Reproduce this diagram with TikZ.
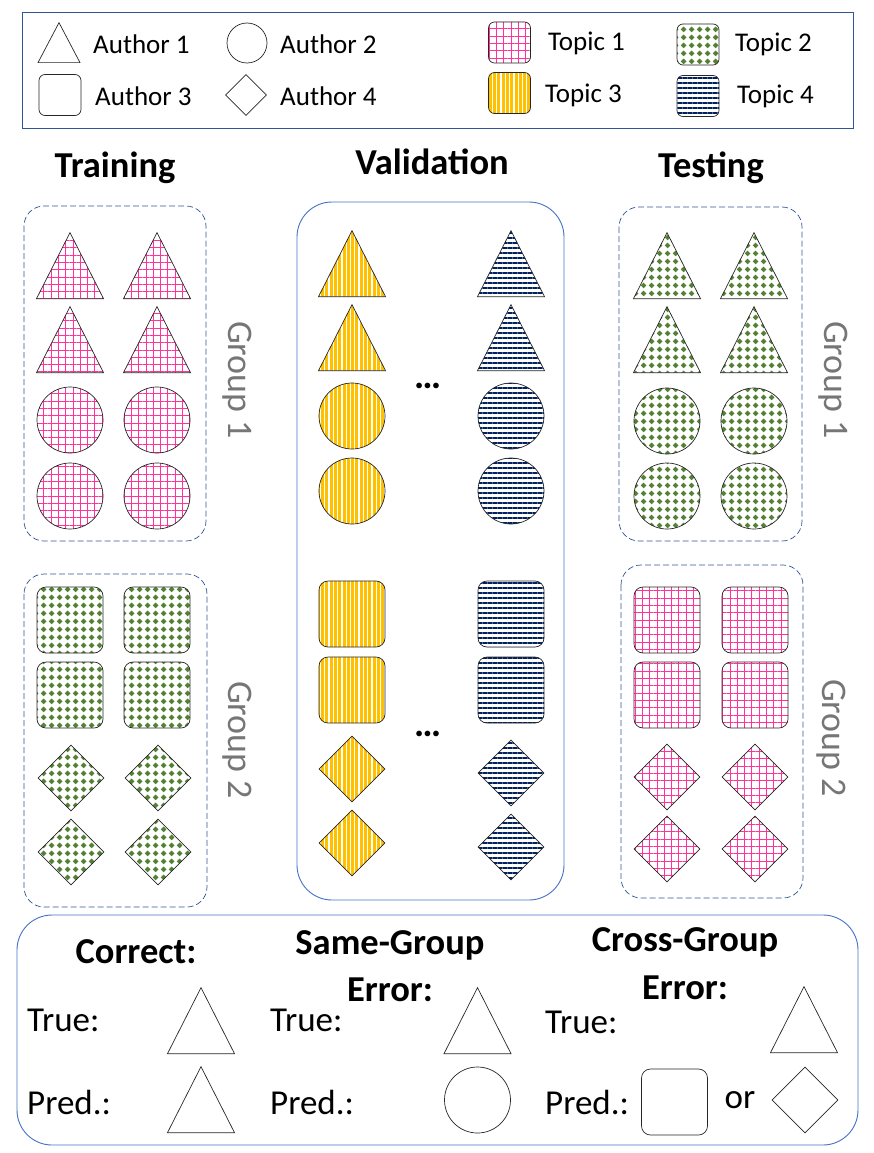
\documentclass[tikz,border=0pt]{standalone}
\usepackage{fontspec}
\setmainfont{Carlito}
\usetikzlibrary{shapes.geometric,patterns.meta}
\definecolor{tpink}{RGB}{255,51,153}
\definecolor{tgreen}{RGB}{84,130,53}
\definecolor{tyellow}{RGB}{255,192,0}
\definecolor{tnavy}{RGB}{0,32,96}
\definecolor{frameblue}{RGB}{47,85,151}
\definecolor{paneblue}{RGB}{68,114,196}
\definecolor{grplabel}{RGB}{118,118,118}
\tikzdeclarepattern{
  name=greendots,
  type=uncolored,
  bottom left={(0pt,0pt)},
  top right={(8pt,8pt)},
  tile size={(8pt,8pt)},
  code={\fill (4pt,0.9pt) -- (7.1pt,4pt) -- (4pt,7.1pt) -- (0.9pt,4pt) -- cycle;}
}
\tikzset{
  shp/.style={draw=black!85, line width=0.7pt, inner sep=0pt, minimum size=66pt},
  tri/.style={shp, isosceles triangle, isosceles triangle stretches, shape border rotate=90, minimum width=67pt, minimum height=66pt, anchor=lower side, yshift=-33pt},
  circ/.style={shp, circle},
  sq/.style={shp, rectangle, rounded corners=9pt},
  dia/.style={shp, diamond},
  smalltri/.style={tri, minimum width=42pt, minimum height=40pt, yshift=13pt},
  smallcirc/.style={circ, minimum size=40pt},
  smallsq/.style={sq, rounded corners=6pt, minimum width=42pt, minimum height=41pt},
  smalldia/.style={dia, minimum size=41pt},
  topicA/.style={pattern={Hatch[distance=7.3pt,line width=0.9pt]}, pattern color=tpink},
  topicB/.style={pattern=greendots, pattern color=tgreen},
  topicC/.style={pattern={Lines[angle=90,distance=4.3pt,line width=3pt]}, pattern color=tyellow},
  topicD/.style={pattern={Lines[angle=0,distance=5pt,line width=1.3pt]}, pattern color=tnavy},
  legtext/.style={anchor=west, inner sep=0pt, font=\fontsize{27}{31}\selectfont},
  head/.style={font=\bfseries\fontsize{36.5}{40}\selectfont},
  grplab/.style={rotate=-90, text=grplabel, font=\fontsize{36}{40}\selectfont},
  bottext/.style={anchor=west, inner sep=0pt, font=\fontsize{35}{39}\selectfont},
  bothead/.style={font=\bfseries\fontsize{36.5}{40}\selectfont},
  dotsmark/.style={font=\bfseries\fontsize{38}{42}\selectfont},
  grpbox/.style={draw=frameblue, line width=0.7pt, dash pattern=on 6pt off 3pt, rounded corners=20pt},
  panebox/.style={draw=paneblue, line width=0.9pt, rounded corners=35pt}
}
\begin{document}
\begin{tikzpicture}[x=1pt,y=-1pt]
    \useasboundingbox (0,0) rectangle (873,1153);
    \draw[frameblue, line width=0.9pt] (22,12) rectangle (853,128);
    \node[smalltri] (leg1) at (59,43) {};
    \node[legtext] (leg1t) at (93,44) {Author 1};
    \node[smallcirc] (leg2) at (247,43) {};
    \node[legtext] (leg2t) at (280,44) {Author 2};
    \node[smallsq] (leg3) at (60,95) {};
    \node[legtext] (leg3t) at (95,96) {Author 3};
    \node[smalldia] (leg4) at (246,95) {};
    \node[legtext] (leg4t) at (280,96) {Author 4};
    \node[smallsq,topicA] (legA) at (509.5,42.5) {};
    \node[legtext] (legAt) at (548,43) {Topic 1};
    \node[smallsq,topicB] (legB) at (698,44.5) {};
    \node[legtext] (legBt) at (735,44) {Topic 2};
    \node[smallsq,topicC] (legC) at (509.5,93) {};
    \node[legtext] (legCt) at (545,95) {Topic 3};
    \node[smallsq,topicD] (legD) at (698,96) {};
    \node[legtext] (legDt) at (737,96) {Topic 4};

    \node[head] (trainhd) at (115,168) {Training};
    \node[head] (validhd) at (432,162) {Validation};
    \node[head] (testhd) at (711,168) {Testing};

    \draw[grpbox] (24,206) rectangle (206,541);
    \draw[grpbox] (24,574) rectangle (207,907);
    \draw[grpbox] (619,207) rectangle (802,541);
    \draw[grpbox] (621,565) rectangle (803,898);
    \draw[panebox] (297,202) rectangle (564,900);

    \node[tri,topicA] (tr1) at (70,266) {};
    \node[tri,topicA] (tr2) at (157,266) {};
    \node[tri,topicA] (tr3) at (70,340) {};
    \node[tri,topicA] (tr4) at (157,340) {};
    \node[circ,topicA] (tr5) at (70,420) {};
    \node[circ,topicA] (tr6) at (157,420) {};
    \node[circ,topicA] (tr7) at (70,496) {};
    \node[circ,topicA] (tr8) at (157,496) {};
    \node[sq,topicB] (tr9) at (70,620) {};
    \node[sq,topicB] (tr10) at (157,620) {};
    \node[sq,topicB] (tr11) at (70,695) {};
    \node[sq,topicB] (tr12) at (157,695) {};
    \node[dia,topicB] (tr13) at (71,778) {};
    \node[dia,topicB] (tr14) at (158,778) {};
    \node[dia,topicB] (tr15) at (71,852) {};
    \node[dia,topicB] (tr16) at (158,852) {};
    \node[grplab] (trg1) at (237,380) {Group 1};
    \node[grplab] (trg2) at (237,740) {Group 2};

    \node[tri,topicC] (va1) at (352,264) {};
    \node[tri,topicD] (va2) at (511,264) {};
    \node[tri,topicC] (va3) at (352,338) {};
    \node[tri,topicD] (va4) at (511,338) {};
    \node[circ,topicC] (va5) at (352,416) {};
    \node[circ,topicD] (va6) at (511,416) {};
    \node[circ,topicC] (va7) at (352,491) {};
    \node[circ,topicD] (va8) at (511,491) {};
    \node[sq,topicC] (va9) at (352,614) {};
    \node[sq,topicD] (va10) at (511,614) {};
    \node[sq,topicC] (va11) at (352,690) {};
    \node[sq,topicD] (va12) at (511,690) {};
    \node[dia,topicC] (va13) at (352,769) {};
    \node[dia,topicD] (va14) at (511,773) {};
    \node[dia,topicC] (va15) at (352,843) {};
    \node[dia,topicD] (va16) at (511,847) {};
    \node[dotsmark] (vadots1) at (428,386) {…};
    \node[dotsmark] (vadots2) at (428,734) {…};

    \node[tri,topicB] (te1) at (667,266) {};
    \node[tri,topicB] (te2) at (754,266) {};
    \node[tri,topicB] (te3) at (667,340) {};
    \node[tri,topicB] (te4) at (754,340) {};
    \node[circ,topicB] (te5) at (667,421) {};
    \node[circ,topicB] (te6) at (754,421) {};
    \node[circ,topicB] (te7) at (667,496) {};
    \node[circ,topicB] (te8) at (754,496) {};
    \node[sq,topicA] (te9) at (667,620) {};
    \node[sq,topicA] (te10) at (755,620) {};
    \node[sq,topicA] (te11) at (667,695) {};
    \node[sq,topicA] (te12) at (755,695) {};
    \node[dia,topicA] (te13) at (667,777) {};
    \node[dia,topicA] (te14) at (755,777) {};
    \node[dia,topicA] (te15) at (667,849) {};
    \node[dia,topicA] (te16) at (755,849) {};
    \node[grplab] (teg1) at (833,380) {Group 1};
    \node[grplab] (teg2) at (831,738) {Group 2};

    \draw[panebox] (17,915) rectangle (858,1145);
    \node[bothead] (corhd) at (136,952) {Correct:};
    \node[bottext] (cortrue) at (27,1020) {True:};
    \node[bottext] (corpred) at (27,1102) {Pred.:};
    \node[tri] (cortri1) at (201,1021) {};
    \node[tri] (cortri2) at (201,1100) {};
    \node[bothead] (samehd) at (390,945) {Same-Group};
    \node[bothead] (sameerr) at (390,990) {Error:};
    \node[bottext] (sametrue) at (270,1020) {True:};
    \node[bottext] (samepred) at (270,1102) {Pred.:};
    \node[tri] (sametri) at (477.5,1021) {};
    \node[circ] (samecirc) at (477.5,1100) {};
    \node[bothead] (crosshd) at (685,942) {Cross-Group};
    \node[bothead] (crosserr) at (685,988) {Error:};
    \node[bottext] (crosstrue) at (545,1022) {True:};
    \node[bottext] (crosspred) at (545,1102) {Pred.:};
    \node[tri] (crosstri) at (804,1020) {};
    \node[sq] (crosssq) at (674.5,1102) {};
    \node[bottext, anchor=center] (crossor) at (740,1100) {or};
    \node[dia] (crossdia) at (805,1100) {};
\end{tikzpicture}
\end{document}
